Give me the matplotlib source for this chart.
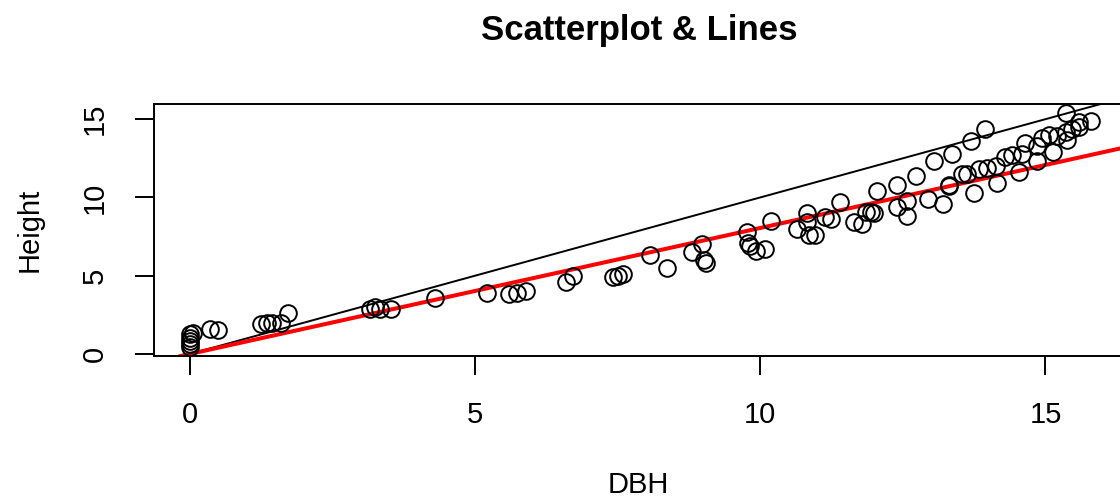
import matplotlib
matplotlib.use("Agg")
import matplotlib.pyplot as plt

plt.rc('font', family=['Liberation Sans', 'DejaVu Sans'])

# data
dbh = [0.0, 0.0, 0.0, 0.0, 0.0, 0.05, 0.35, 0.5,
       1.24, 1.35, 1.44, 1.6, 1.72,
       3.15, 3.24, 3.34, 3.52, 4.29,
       5.2, 5.6, 5.73, 5.9, 6.6, 6.71, 7.41, 7.51, 7.6, 8.07, 8.37, 8.81, 8.98, 9.02, 9.04,
       9.77, 9.79, 9.82, 9.93, 10.09, 10.19, 10.65, 10.82, 10.82, 10.86, 10.96, 11.14, 11.24,
       11.4, 11.65, 11.79, 11.86, 11.94, 12.0, 12.05, 12.4, 12.4, 12.57, 12.57, 12.73, 12.94,
       13.05, 13.36, 13.7, 13.94, 13.2, 13.3, 13.3, 13.54, 13.63, 13.75, 13.84, 13.98, 14.15,
       14.13, 14.29, 14.41, 14.54, 14.59, 14.64, 14.85, 14.85, 14.94, 15.06, 15.13, 15.2,
       15.36, 15.38, 15.36, 15.46, 15.59, 15.59, 15.8]
height = [0.45, 0.65, 0.85, 1.05, 1.25, 1.35, 1.6, 1.5,
          1.9, 2.0, 2.0, 2.0, 2.6,
          2.9, 3.0, 2.9, 2.9, 3.6,
          3.9, 3.8, 3.9, 4.0, 4.6, 5.0, 4.9, 5.0, 5.1, 6.3, 5.5, 6.5, 7.0, 6.0, 5.8,
          7.8, 7.1, 6.9, 6.6, 6.7, 8.5, 8.0, 9.0, 8.4, 7.6, 7.6, 8.75, 8.6,
          9.7, 8.4, 8.3, 9.1, 9.1, 9.0, 10.4, 10.8, 9.4, 9.8, 8.8, 11.4, 9.9,
          12.3, 12.8, 13.6, 14.4, 9.6, 10.8, 10.7, 11.5, 11.5, 10.3, 11.8, 11.9, 10.9,
          12.0, 12.6, 12.7, 11.6, 12.75, 13.5, 12.3, 13.3, 13.8, 14.0, 12.9, 13.9,
          14.2, 13.7, 15.4, 14.4, 14.85, 14.5, 14.9]

# reference line y = x and fitted line
ref_a, ref_b = 0.0, 1.0
fit_a, fit_b = 0.0, 0.805

fig = plt.figure(figsize=(11.2, 4.99), dpi=100)
ax = fig.add_axes([0.1375, 0.2866, 0.8647, 0.505])

ax.plot(dbh, height, 'o', mfc='none', mec='black', ms=12, mew=1.4, clip_on=False, zorder=3)
ax.axline((0, ref_a), slope=ref_b, color='black', lw=1.4)
ax.axline((0, fit_a), slope=fit_b, color='red', lw=2.9)

ax.set_xlim(-0.63, 16.35)
ax.set_ylim(-0.13, 15.97)
ax.set_xticks([0, 5, 10, 15])
ax.set_yticks([0, 5, 10, 15])
ax.tick_params(labelsize=21, length=13.5, width=1.4, pad=19, direction='out')
for lbl in ax.get_yticklabels():
    lbl.set_rotation(90)
    lbl.set_va('center')
for s in ax.spines.values():
    s.set_linewidth(1.4)

ax.set_xlabel('DBH', fontsize=21, labelpad=30)
ax.set_ylabel('Height', fontsize=21, labelpad=27)
fig.text(0.571, 0.938, 'Scatterplot & Lines', fontsize=25, fontweight='bold',
         ha='center', va='center')

fig.savefig('out.png', dpi=100)
